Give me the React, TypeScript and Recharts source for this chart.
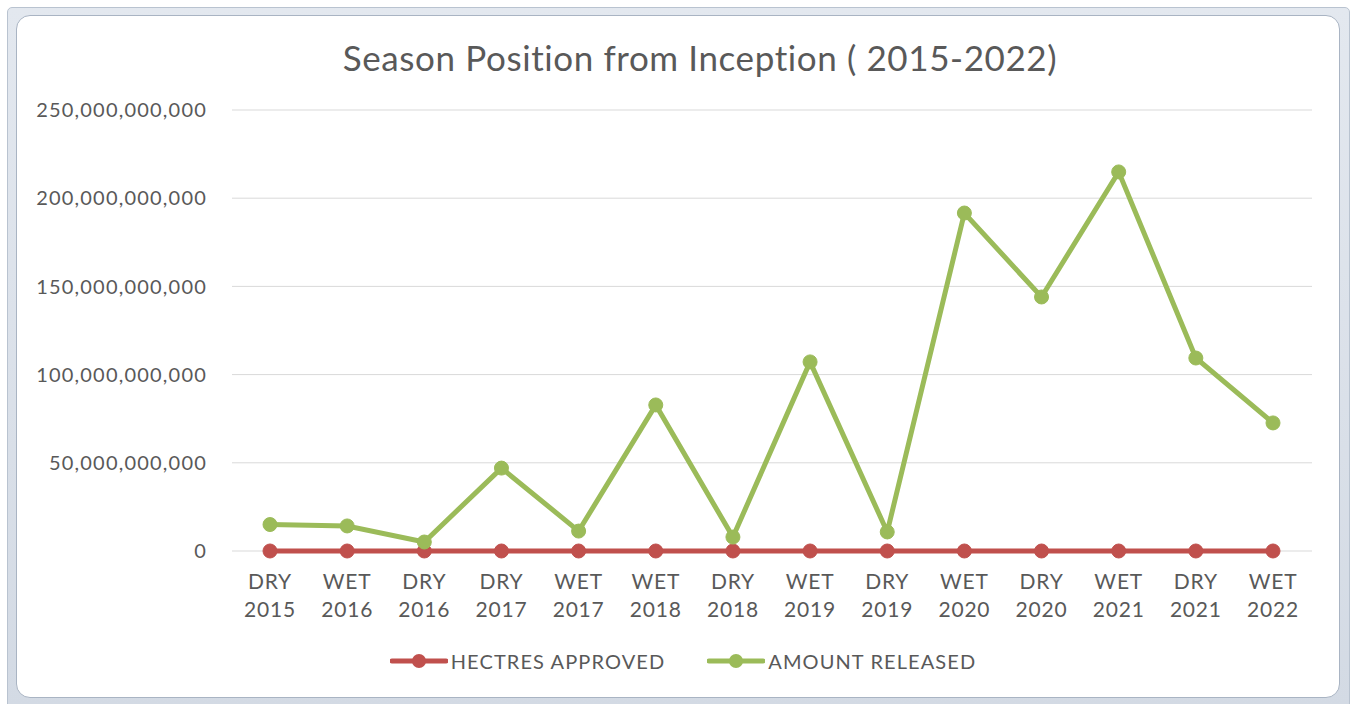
import { LineChart, Line, XAxis, YAxis, CartesianGrid, Legend } from 'recharts'

const seasons = [
  'DRY 2015', 'WET 2016', 'DRY 2016', 'DRY 2017', 'WET 2017', 'WET 2018', 'DRY 2018',
  'WET 2019', 'DRY 2019', 'WET 2020', 'DRY 2020', 'WET 2021', 'DRY 2021', 'WET 2022',
]

// naira released per season
const amountReleased = [
  15.0e9, 14.2e9, 5.1e9, 47.0e9, 11.3e9, 82.8e9, 7.9e9,
  107.2e9, 10.8e9, 191.6e9, 144.0e9, 214.9e9, 109.4e9, 72.6e9,
]

// hectares are tiny next to the naira amounts, they sit on the zero line
const hectresApproved = [
  32000, 41000, 18000, 95000, 36000, 150000, 22000,
  210000, 30000, 380000, 260000, 420000, 215000, 140000,
]

const yTicks = [0, 50e9, 100e9, 150e9, 200e9, 250e9]

const RED = '#c0504d'
const GREEN = '#9bbb59'
const FONT = 'Lato, "Open Sans", sans-serif'
const TEXT = '#595959'

const data = seasons.map((s, i) => ({
  season: s,
  hectres: hectresApproved[i],
  amount: amountReleased[i],
}))

function SeasonTick({ x, y, payload }: any) {
  const [kind, year] = String(payload.value).split(' ')
  return (
    <g transform={`translate(${x},${y})`}>
      <text textAnchor="middle" fill={TEXT} fontSize={21} fontFamily={FONT} letterSpacing={0.8}>
        <tspan x={0} dy={30}>{kind}</tspan>
        <tspan x={0} dy={28}>{year}</tspan>
      </text>
    </g>
  )
}

function LegendContent() {
  const items = [
    { label: 'HECTRES APPROVED', color: RED },
    { label: 'AMOUNT RELEASED', color: GREEN },
  ]
  return (
    <div style={{ display: 'flex', justifyContent: 'center', gap: 42, paddingLeft: 54 }}>
      {items.map((it) => (
        <div key={it.label} style={{ display: 'flex', alignItems: 'center' }}>
          <svg width={58} height={20}>
            <line x1={2} y1={10} x2={56} y2={10} stroke={it.color} strokeWidth={5} strokeLinecap="round" />
            <circle cx={29} cy={10} r={7} fill={it.color} />
          </svg>
          <span style={{ color: TEXT, fontSize: 20, fontFamily: FONT, letterSpacing: 1.1, marginLeft: 3 }}>
            {it.label}
          </span>
        </div>
      ))}
    </div>
  )
}

export default function App() {
  return (
    <div style={{ position: 'absolute', left: 0, top: 0, width: 1355, height: 704, background: '#fff', overflow: 'hidden' }}>
      {/* window-style frame */}
      <div
        style={{
          position: 'absolute', left: 7, top: 7, width: 1341, height: 700,
          background: 'linear-gradient(#e3e8ef, #d3dae4)', border: '1px solid #b9c3d0', borderRadius: 5,
        }}
      />
      <div
        style={{
          position: 'absolute', left: 16, top: 15, width: 1322, height: 681,
          background: '#fff', border: '1px solid #a9b4c3', borderRadius: 14,
        }}
      />
      <div
        style={{
          position: 'absolute', left: 0, top: 36, width: 1400, textAlign: 'center',
          fontFamily: FONT, fontSize: 35, letterSpacing: 0.6, color: TEXT,
        }}
      >
        Season Position from Inception ( 2015-2022)
      </div>
      <div style={{ position: 'absolute', left: 0, top: 0 }}>
        <LineChart width={1355} height={704} data={data} margin={{ top: 110, right: 43, left: 0, bottom: 15 }}>
          <CartesianGrid vertical={false} stroke="#d9d9d9" strokeWidth={1} />
          <XAxis
            dataKey="season"
            height={98}
            axisLine={false}
            tickLine={false}
            interval={0}
            padding={{ left: 38, right: 39 }}
            tick={<SeasonTick />}
          />
          <YAxis
            width={232}
            domain={[0, 250e9]}
            ticks={yTicks}
            axisLine={false}
            tickLine={false}
            tickMargin={19}
            tickFormatter={(v: number) => v.toLocaleString('en-US')}
            tick={{ fill: TEXT, fontSize: 20, fontFamily: FONT, letterSpacing: 1.2 }}
          />
          <Legend verticalAlign="bottom" height={40} content={<LegendContent />} />
          <Line
            dataKey="hectres"
            name="HECTRES APPROVED"
            stroke={RED}
            strokeWidth={5}
            dot={{ r: 7, fill: RED, stroke: RED, strokeWidth: 1 }}
            isAnimationActive={false}
          />
          <Line
            dataKey="amount"
            name="AMOUNT RELEASED"
            stroke={GREEN}
            strokeWidth={5}
            dot={{ r: 7, fill: GREEN, stroke: GREEN, strokeWidth: 1 }}
            isAnimationActive={false}
          />
        </LineChart>
      </div>
    </div>
  )
}
